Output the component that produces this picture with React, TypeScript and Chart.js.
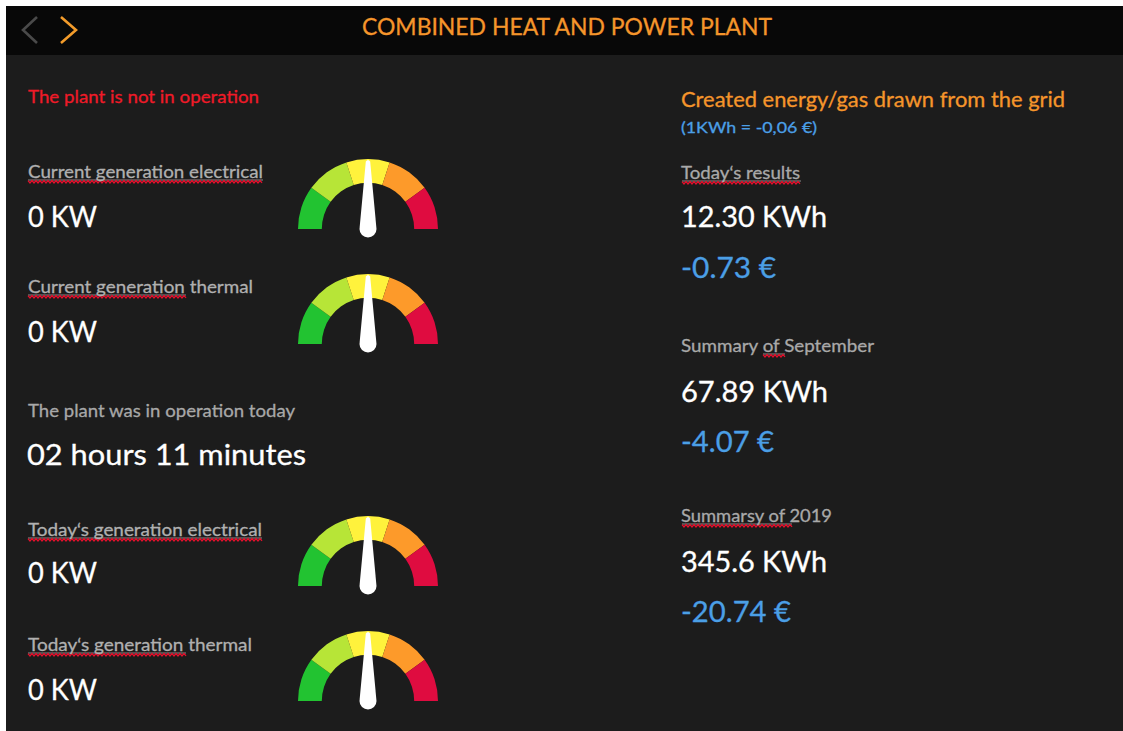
import React, { useEffect, useRef } from 'react';
import { Chart, registerables } from 'chart.js';

Chart.register(...registerables);

// ---- data ----
const zoneLabels = ['Very low', 'Low', 'Medium', 'High', 'Very high'];
const zoneSizes = [20, 20, 20, 20, 20];
const zoneColors = ['#22c331', '#b7e537', '#fff23c', '#fd9a2a', '#df0c40'];
const needlePercents = [50, 50, 50, 50];

const titleText = 'COMBINED HEAT AND POWER PLANT';
const statusText = 'The plant is not in operation';
const gaugeNames = [
  'Current generation electrical',
  'Current generation thermal',
  'Today‘s generation electrical',
  'Today‘s generation thermal',
];
const gaugeReadings = ['0 KW', '0 KW', '0 KW', '0 KW'];
const operationLabel = 'The plant was in operation today';
const operationValue = '02 hours 11 minutes';

const gridTitle = 'Created energy/gas drawn from the grid';
const gridRate = '(1KWh = -0,06 €)';
const summaryLabels = ['Today‘s results', 'Summary of September', 'Summarsy of 2019'];
const summaryEnergy = ['12.30 KWh', '67.89 KWh', '345.6 KWh'];
const summaryCost = ['-0.73 €', '-4.07 €', '-20.74 €'];

// ---- layout ----
const FONT = 'Lato, "Open Sans", sans-serif';
const ORANGE = '#f5952b';
const BLUE = '#4b9fe6';
const LABEL = '#b0b0b0';

const gaugeCenters = [
  [367.5, 229],
  [367.5, 344],
  [367.5, 586],
  [367.5, 701],
];
const gaugeLabelY = [178, 293, 536, 651];
const gaugeValueY = [227, 342, 583, 700];
const gaugeLabelW = [235, 225, 234, 224];
const summaryLabelY = [179, 352, 522];
const summaryEnergyY = [227, 402, 572];
const summaryCostY = [278, 452, 622];
const summaryLabelW = [119, 193, 151];
const summaryEnergyW = [146, 147, 146];
const summaryCostW = [95, 93, 110];

// spell-check squiggles: [x0, x1, baseline]
const squiggles: [number, number, number][] = [
  [28, 263, 178],
  [28, 186, 293],
  [28, 262, 536],
  [28, 186, 651],
  [682, 801, 179],
  [763, 785, 352],
  [682, 792, 522],
];

function squigglePath(x0: number, x1: number, b: number) {
  let d = `M${x0} ${b + 2.6}`;
  let up = false;
  for (let x = x0 + 2; x <= x1; x += 2) {
    d += ` L${x} ${up ? b + 2.6 : b + 4.9}`;
    up = !up;
  }
  return d;
}

function Gauge({ cx, cy, percent }: { cx: number; cy: number; percent: number }) {
  const ref = useRef<HTMLCanvasElement>(null);
  useEffect(() => {
    if (!ref.current) return;
    const needle = {
      id: 'needle',
      afterDatasetsDraw(chart: any) {
        const arc = chart.getDatasetMeta(0).data[0] as any;
        const x = arc.x;
        const y = arc.y;
        const r = arc.outerRadius;
        const ctx = chart.ctx as CanvasRenderingContext2D;
        const angle = -Math.PI + (percent / 100) * Math.PI;
        ctx.save();
        ctx.translate(x, y);
        ctx.rotate(angle + Math.PI / 2);
        ctx.beginPath();
        ctx.moveTo(-8.5, 0);
        ctx.lineTo(-2.2, -r + 2.5);
        ctx.quadraticCurveTo(0, -r - 0.5, 2.2, -r + 2.5);
        ctx.lineTo(8.5, 0);
        ctx.arc(0, 0, 8.5, 0, Math.PI);
        ctx.closePath();
        ctx.fillStyle = '#ffffff';
        ctx.fill();
        ctx.restore();
      },
    };
    const chart = new Chart(ref.current, {
      type: 'doughnut',
      data: {
        labels: zoneLabels,
        datasets: [
          {
            data: zoneSizes,
            backgroundColor: zoneColors,
            borderWidth: 0,
          },
        ],
      },
      options: {
        responsive: false,
        maintainAspectRatio: false,
        animation: false,
        rotation: -90,
        circumference: 180,
        cutout: '66%',
        events: [],
        layout: { padding: { left: 5, right: 5, top: 5, bottom: 10 } },
        plugins: { legend: { display: false }, tooltip: { enabled: false } },
      },
      plugins: [needle],
    } as any);
    return () => chart.destroy();
  }, [percent]);
  return (
    <canvas
      ref={ref}
      width={150}
      height={85}
      style={{ position: 'absolute', left: cx - 75, top: cy - 75, width: 150, height: 85 }}
    />
  );
}

function T(props: {
  x: number;
  y: number;
  size: number;
  fill: string;
  w?: number;
  children: React.ReactNode;
}) {
  const { x, y, size, fill, w, children } = props;
  const extra: any = {};
  if (w) {
    extra.textLength = w;
    extra.lengthAdjust = 'spacingAndGlyphs';
  }
  return (
    <text
      x={x}
      y={y}
      fontSize={size}
      fill={fill}
      stroke={fill}
      strokeWidth={0.3}
      fontFamily={FONT}
      {...extra}
    >
      {children}
    </text>
  );
}

export default function App() {
  return (
    <div style={{ position: 'absolute', left: 0, top: 0, width: 1123, height: 731, background: '#ffffff', overflow: 'hidden' }}>
      <div style={{ position: 'absolute', left: 6, top: 6, width: 1117, height: 725, background: '#1c1c1c' }} />
      <div style={{ position: 'absolute', left: 6, top: 6, width: 1117, height: 49, background: '#080808' }} />
      <svg width={1123} height={731} style={{ position: 'absolute', left: 0, top: 0 }}>
        <polyline points="37,17 23,30 37,43" fill="none" stroke="#4a4a4a" strokeWidth={2.6} />
        <polyline points="61,17 76,30 61,43" fill="none" stroke="#f39c2b" strokeWidth={2.6} />
        <T x={362} y={35} size={24} fill={ORANGE} w={410}>{titleText}</T>

        {squiggles.map(([a, b, y], i) => (
          <g key={'sq' + i}>
            <line x1={a} x2={b} y1={y + 2} y2={y + 2} stroke="#8a8a8a" strokeWidth={1} />
            <path d={squigglePath(a, b, y)} fill="none" stroke="#e5102c" strokeWidth={1.3} />
          </g>
        ))}

        <T x={28} y={103} size={18} fill="#ef1a28" w={231}>{statusText}</T>
        {gaugeNames.map((n, i) => (
          <T key={'gl' + i} x={28} y={gaugeLabelY[i]} size={18} fill={LABEL} w={gaugeLabelW[i]}>{n}</T>
        ))}
        {gaugeReadings.map((v, i) => (
          <T key={'gv' + i} x={28} y={gaugeValueY[i]} size={29} fill="#ffffff" w={69}>{v}</T>
        ))}
        <T x={28} y={417} size={18} fill="#a8a8a8" w={267}>{operationLabel}</T>
        <T x={27} y={465} size={29} fill="#ffffff" w={279}>{operationValue}</T>

        <T x={681} y={107} size={21} fill={ORANGE} w={384}>{gridTitle}</T>
        <T x={681} y={133} size={16} fill={BLUE} w={136}>{gridRate}</T>
        {summaryLabels.map((n, i) => (
          <T key={'sl' + i} x={681} y={summaryLabelY[i]} size={18} fill="#a9a9a9" w={summaryLabelW[i]}>{n}</T>
        ))}
        {summaryEnergy.map((n, i) => (
          <T key={'se' + i} x={681} y={summaryEnergyY[i]} size={29} fill="#ffffff" w={summaryEnergyW[i]}>{n}</T>
        ))}
        {summaryCost.map((n, i) => (
          <T key={'sc' + i} x={681} y={summaryCostY[i]} size={29} fill={BLUE} w={summaryCostW[i]}>{n}</T>
        ))}
      </svg>
      {gaugeCenters.map(([cx, cy], i) => (
        <Gauge key={'g' + i} cx={cx} cy={cy} percent={needlePercents[i]} />
      ))}
    </div>
  );
}
